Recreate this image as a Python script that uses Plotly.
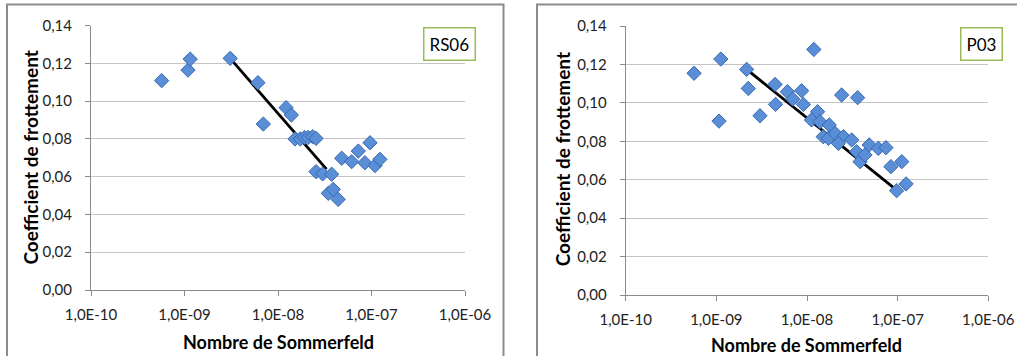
import plotly.graph_objects as go

# ---------------- data ----------------
# RS06 (left chart)
rs06_x = [5.7e-10, 1.09e-9, 1.15e-9, 3.08e-9, 6.1e-9, 6.97e-9, 1.22e-8, 1.39e-8,
          1.52e-8, 1.73e-8, 1.92e-8, 2.1e-8, 2.35e-8, 2.55e-8,
          2.55e-8, 3.0e-8, 3.75e-8, 3.45e-8, 3.9e-8, 4.4e-8,
          4.8e-8, 6.14e-8, 7.23e-8, 8.5e-8, 9.64e-8, 1.09e-7, 1.23e-7]
rs06_y = [0.1109, 0.1165, 0.1223, 0.1227, 0.1098, 0.0879, 0.0966, 0.0927,
          0.0800, 0.0800, 0.0808, 0.0808, 0.0812, 0.0803,
          0.0627, 0.0615, 0.0613, 0.0512, 0.0533, 0.0480,
          0.0698, 0.0680, 0.0736, 0.0674, 0.0780, 0.0659, 0.0692]
rs06_trend_x = [3.08e-9, 3.3e-8]
rs06_trend_y = [0.1227, 0.0640]

# P03 (right chart)
p03_x = [5.68e-10, 1.12e-9, 1.07e-9, 2.16e-9, 2.25e-9, 3.03e-9, 4.44e-9, 4.5e-9,
         6.07e-9, 6.95e-9, 8.73e-9, 9.12e-9, 1.19e-8, 1.31e-8, 1.12e-8, 1.39e-8,
         1.76e-8, 1.51e-8, 1.72e-8, 2.04e-8, 2.41e-8, 2.52e-8, 2.22e-8, 3.11e-8,
         3.62e-8, 3.53e-8, 3.85e-8, 4.36e-8, 4.86e-8, 6.12e-8, 7.43e-8, 8.43e-8,
         1.11e-7, 9.75e-8, 1.24e-7]
p03_y = [0.1154, 0.1228, 0.0905, 0.1174, 0.1075, 0.0933, 0.1096, 0.0992,
         0.1058, 0.1020, 0.1063, 0.0992, 0.1278, 0.0954, 0.0911, 0.0902,
         0.0885, 0.0824, 0.0815, 0.0841, 0.1041, 0.0824, 0.0789, 0.0807,
         0.1027, 0.0746, 0.0694, 0.0729, 0.0781, 0.0763, 0.0767, 0.0668,
         0.0694, 0.0543, 0.0578]
p03_trend_x = [2.16e-9, 9.75e-8]
p03_trend_y = [0.1174, 0.0546]

x_tickvals = [1e-10, 1e-9, 1e-8, 1e-7, 1e-6]
x_ticktext = ["1,0E-10", "1,0E-09", "1,0E-08", "1,0E-07", "1,0E-06"]
y_tickvals = [0.0, 0.02, 0.04, 0.06, 0.08, 0.10, 0.12, 0.14]
y_ticktext = ["0,00", "0,02", "0,04", "0,06", "0,08", "0,10", "0,12", "0,14"]

labels = ["RS06", "P03"]
x_title = "Nombre de Sommerfeld"
y_title = "Coefficient de frottement"

# ---------------- figure ----------------
W, H = 1017, 356
FONT = "Lato"
MARKER_FILL = "#5a8fd8"
MARKER_LINE = "#3668b0"
GRID = "#c4c4c4"
AXIS = "#8a8a8a"

fig = go.Figure()

marker = dict(symbol="diamond", size=11, color=MARKER_FILL,
              line=dict(color=MARKER_LINE, width=1))

fig.add_trace(go.Scatter(x=rs06_trend_x, y=rs06_trend_y, mode="lines",
                         line=dict(color="black", width=2.8),
                         xaxis="x", yaxis="y", showlegend=False))
fig.add_trace(go.Scatter(x=rs06_x, y=rs06_y, mode="markers", marker=marker,
                         xaxis="x", yaxis="y", showlegend=False))
fig.add_trace(go.Scatter(x=p03_trend_x, y=p03_trend_y, mode="lines",
                         line=dict(color="black", width=2.8),
                         xaxis="x2", yaxis="y2", showlegend=False))
fig.add_trace(go.Scatter(x=p03_x, y=p03_y, mode="markers", marker=marker,
                         xaxis="x2", yaxis="y2", showlegend=False))

def px_x(p):
    return p / W

def px_y(p):
    return 1 - p / H

xaxis_common = dict(type="log", range=[-10, -6], tickvals=x_tickvals, ticktext=x_ticktext,
                    showgrid=False, showline=True, linecolor=AXIS, linewidth=1,
                    ticks="outside", ticklen=5, tickcolor=AXIS, zeroline=False,
                    automargin=False,
                    tickfont=dict(family=FONT, size=15, color="#222"))
yaxis_common = dict(range=[0, 0.14], tickvals=y_tickvals, ticktext=y_ticktext,
                    showgrid=True, gridcolor=GRID, gridwidth=1,
                    showline=True, linecolor=AXIS, linewidth=1,
                    ticks="outside", ticklen=5, tickcolor=AXIS, zeroline=False,
                    automargin=False,
                    tickfont=dict(family=FONT, size=15, color="#222"))

L = dict(x0=91, x1=465, y0=25.7, y1=290)
R = dict(x0=625.7, x1=988.3, y0=26, y1=295)

fig.update_layout(
    width=W, height=H,
    margin=dict(l=0, r=0, t=0, b=0, pad=0, autoexpand=False),
    paper_bgcolor="white", plot_bgcolor="white",
    xaxis=dict(domain=[px_x(L["x0"]), px_x(L["x1"])], anchor="y", ticklabelstandoff=6, **xaxis_common),
    yaxis=dict(domain=[px_y(L["y1"]), px_y(L["y0"])], anchor="x", ticklabelstandoff=10, **yaxis_common),
    xaxis2=dict(domain=[px_x(R["x0"]), px_x(R["x1"])], anchor="y2", ticklabelstandoff=6, **xaxis_common),
    yaxis2=dict(domain=[px_y(R["y1"]), px_y(R["y0"])], anchor="x2", ticklabelstandoff=10, **yaxis_common),
)

# outer chart borders
fig.add_shape(type="rect", xref="paper", yref="paper",
              x0=px_x(7), x1=px_x(503.5), y0=px_y(358), y1=px_y(4.5),
              line=dict(color="#8c8c8c", width=2), fillcolor="rgba(0,0,0,0)", layer="below")
fig.add_shape(type="rect", xref="paper", yref="paper",
              x0=px_x(537), x1=px_x(1020), y0=px_y(358), y1=px_y(4.5),
              line=dict(color="#8c8c8c", width=2), fillcolor="rgba(0,0,0,0)", layer="below")

# axis titles
fig.add_annotation(text="<b>" + x_title + "</b>", xref="paper", yref="paper",
                   x=px_x(278), y=px_y(341.5), showarrow=False,
                   font=dict(family=FONT, size=18, color="black"),
                   xanchor="center", yanchor="middle")
fig.add_annotation(text="<b>" + x_title + "</b>", xref="paper", yref="paper",
                   x=px_x(806.7), y=px_y(345), showarrow=False,
                   font=dict(family=FONT, size=18, color="black"),
                   xanchor="center", yanchor="middle")
fig.add_annotation(text="<b>" + y_title + "</b>", xref="paper", yref="paper",
                   x=px_x(30), y=px_y(157.5), showarrow=False,
                   font=dict(family=FONT, size=19, color="black"),
                   textangle=-90, xanchor="center", yanchor="middle")
fig.add_annotation(text="<b>" + y_title + "</b>", xref="paper", yref="paper",
                   x=px_x(563.3), y=px_y(159), showarrow=False,
                   font=dict(family=FONT, size=19, color="black"),
                   textangle=-90, xanchor="center", yanchor="middle")

# label boxes
label_font = dict(family=FONT, size=17, color="black")
fig.add_annotation(text=labels[0], xref="paper", yref="paper",
                   x=px_x(449.3), y=px_y(44), showarrow=False, font=label_font,
                   bordercolor="#9bbb59", borderwidth=1.5, borderpad=5, bgcolor="white",
                   xanchor="center", yanchor="middle")
fig.add_annotation(text=labels[1], xref="paper", yref="paper",
                   x=px_x(981.3), y=px_y(44), showarrow=False, font=label_font,
                   bordercolor="#9bbb59", borderwidth=1.5, borderpad=5, bgcolor="white",
                   xanchor="center", yanchor="middle")

fig.write_html("out.html",
               config={"displayModeBar": False},
               post_script="document.body.style.margin='0';document.body.style.overflow='hidden';")
